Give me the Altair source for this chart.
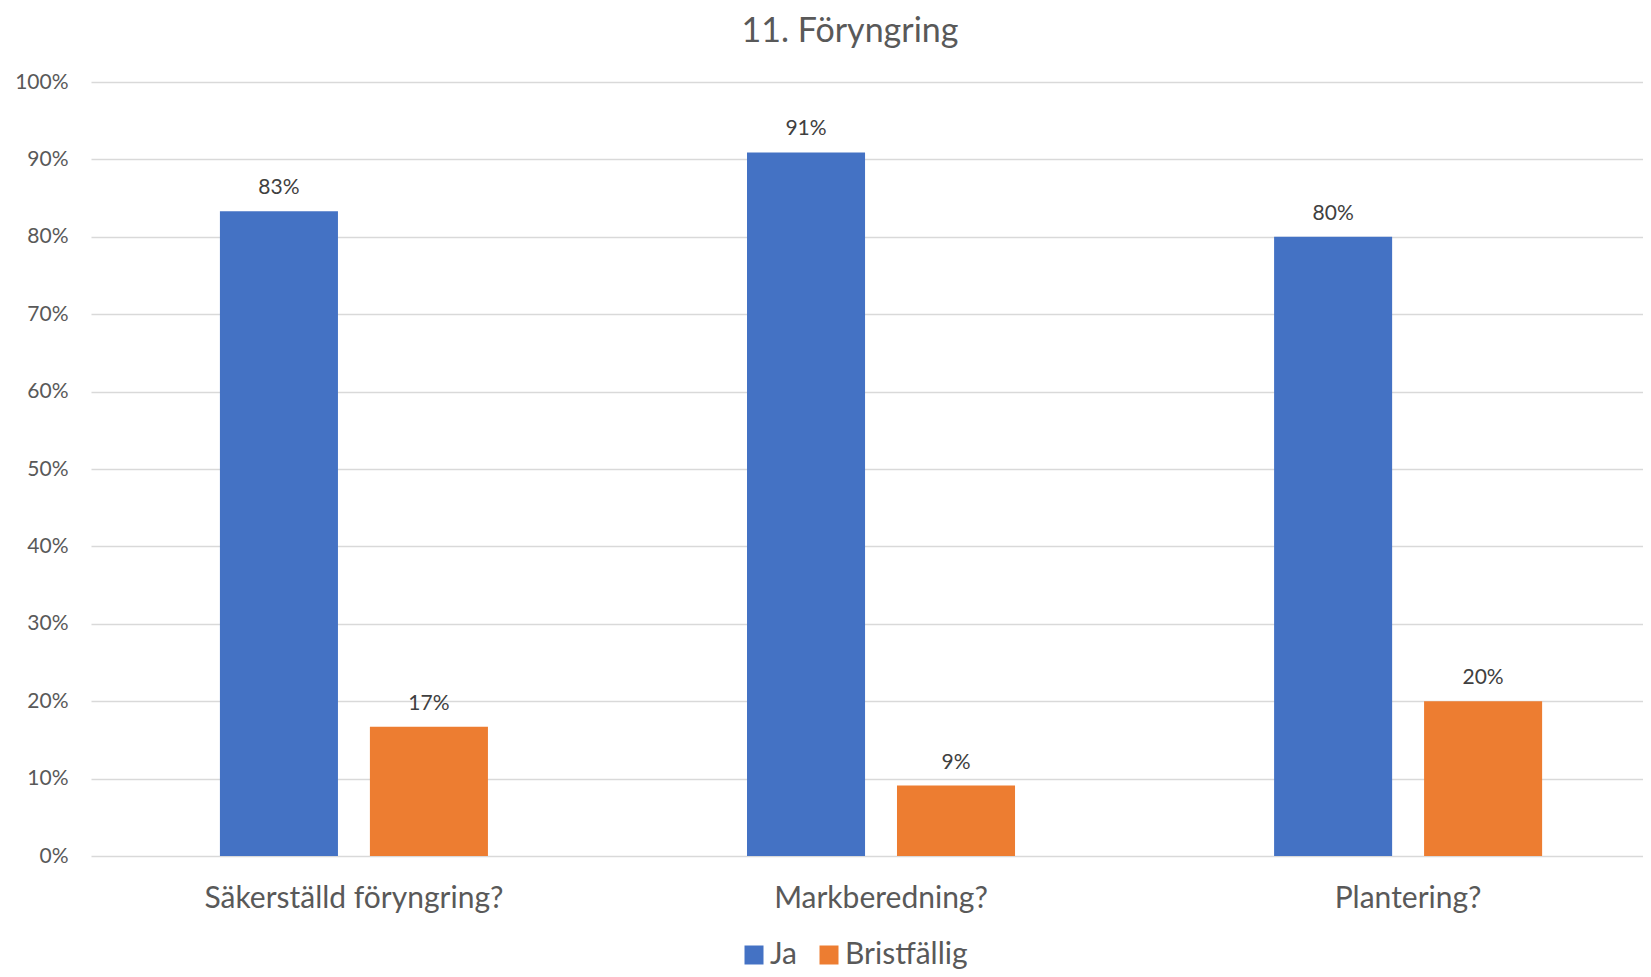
import altair as alt
import pandas as pd

categories = ["Säkerställd föryngring?", "Markberedning?", "Plantering?"]
series = ["Ja", "Bristfällig"]
ja_values = [0.833, 0.909, 0.80]
brist_values = [0.167, 0.091, 0.20]
colors = ["#4472C4", "#ED7D31"]
y_ticks = [0.0, 0.1, 0.2, 0.3, 0.4, 0.5, 0.6, 0.7, 0.8, 0.9, 1.0]
title_text = "11. Föryngring"

rows = []
for c, j, b in zip(categories, ja_values, brist_values):
    rows.append({"kategori": c, "serie": series[0], "andel": j})
    rows.append({"kategori": c, "serie": series[1], "andel": b})
df = pd.DataFrame(rows)

FONT = "Lato"

x = alt.X(
    "kategori:N",
    sort=categories,
    scale=alt.Scale(paddingInner=0.4915, paddingOuter=0.218, align=0.561),
    axis=alt.Axis(
        title=None, labelAngle=0, labelFontSize=30, labelColor="#595959",
        labelPadding=42, labelBaseline="middle", ticks=False, tickSize=0,
        domain=False, grid=False, labelFont=FONT, labelLimit=0,
    ),
)
xoff = alt.XOffset("serie:N", sort=series,
                   scale=alt.Scale(paddingInner=0.213, paddingOuter=0))
y = alt.Y(
    "andel:Q",
    scale=alt.Scale(domain=[0, 1], nice=False, zero=True),
    axis=alt.Axis(
        values=y_ticks, format=".0%", title=None, ticks=False, tickSize=0,
        domain=False, labelFontSize=21, labelColor="#595959", labelPadding=23,
        gridColor="#d9d9d9", gridWidth=1.5, labelFont=FONT,
    ),
)
color = alt.Color(
    "serie:N",
    sort=series,
    scale=alt.Scale(domain=series, range=colors),
    legend=alt.Legend(
        title=None, orient="none", direction="horizontal",
        legendX=648, legendY=858, symbolType="square", symbolSize=361,
        symbolStrokeWidth=0, labelFontSize=30, labelColor="#595959",
        labelFont=FONT, labelOffset=1, columnPadding=17,
    ),
)

base = alt.Chart(df)
bars = base.mark_bar().encode(x=x, xOffset=xoff, y=y, color=color)
labels = base.mark_text(
    dy=-17, baseline="alphabetic", fontSize=21, color="#404040", font=FONT
).encode(x=x, xOffset=xoff, y=y, text=alt.Text("andel:Q", format=".0%"))

chart = (
    alt.layer(bars, labels)
    .properties(
        width=1552,
        height=774,
        autosize=alt.AutoSizeParams(type="none"),
        padding={"left": 83, "top": 74, "right": 0, "bottom": 113},
        title=alt.Title(
            title_text, fontSize=34, color="#595959", font=FONT,
            fontWeight="normal", anchor="middle", frame="group", dx=-17,
            offset=22,
        ),
    )
    .configure(background="white", view=alt.ViewConfig(strokeWidth=0))
)

chart.save("out.html", embed_options={"renderer": "svg", "actions": False})
